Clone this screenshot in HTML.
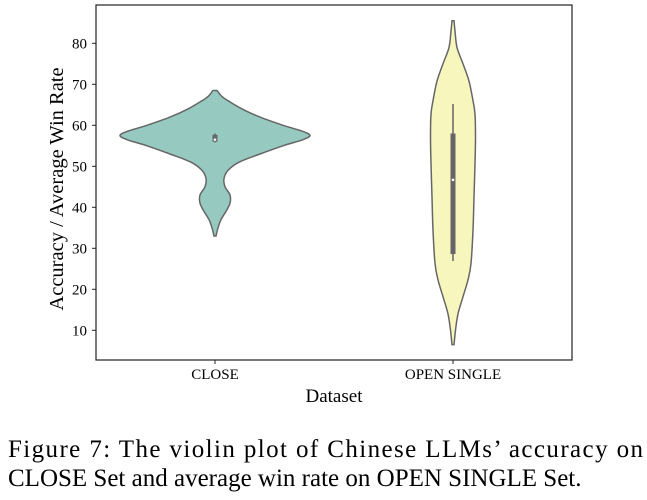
<!DOCTYPE html>
<html><head><meta charset="utf-8"><style>
body{margin:0;background:#fff;width:647px;height:495px;overflow:hidden}
svg text{font-family:"Liberation Serif",serif;fill:#000}
</style></head><body>
<svg id="chart" width="647" height="495" xmlns="http://www.w3.org/2000/svg">
<g id="plot"></g>
<text x="334" y="402" font-size="19" text-anchor="middle">Dataset</text>
<text transform="translate(63,189) rotate(-90)" font-size="20.5" text-anchor="middle">Accuracy / Average Win Rate</text>
<text x="8" y="457" font-size="25" textLength="635" lengthAdjust="spacing">Figure 7: The violin plot of Chinese LLMs’ accuracy on</text>
<text x="8" y="486" font-size="25">CLOSE Set and average win rate on OPEN SINGLE Set.</text>
</svg>
<script>
const categories = ["CLOSE", "OPEN SINGLE"];
const yTicks = [10, 20, 30, 40, 50, 60, 70, 80];
const closeValues = [68.5, 67, 66, 64, 62, 60, 58.5, 57.5, 56.5, 55, 53, 51, 49, 47, 45, 43, 41, 39, 37, 35, 33];
const closeDensity = [2, 7, 13, 27, 45, 68, 88, 95, 88, 68, 45, 24, 13, 9, 10, 15, 15, 11, 6, 3, 1];
const openValues = [85.5, 83, 79, 75, 70.8, 66, 62.7, 57, 50.6, 42.5, 34.4, 26.3, 22.3, 18.2, 14, 10, 6.5];
const openDensity = [1, 2, 4, 10, 16, 20, 22, 22.5, 22, 21, 20, 18, 15, 10, 5, 2.5, 1];
const closeStats = [56, 57.7, 56.5, 55.8, 58]; // q1,q3,median,whiskerLo,whiskerHi
const openStats = [28.6, 58, 46.7, 26.9, 65.2];
const colors = ["#96cac0", "#f7f6bd"];

const L=96,R=572,T=5,B=360;
const y = v => 330.3 - (v - 10) * 4.1;
const xCat = i => [215, 453][i];
const NS="http://www.w3.org/2000/svg";
const plot=document.getElementById('plot');
function mk(tag,attrs){const e=document.createElementNS(NS,tag);for(const k in attrs)e.setAttribute(k,attrs[k]);plot.appendChild(e);return e;}

function smooth(pts){
  let d="M"+pts[0][0]+","+pts[0][1];
  for(let i=0;i<pts.length-1;i++){
    const p0=pts[Math.max(0,i-1)],p1=pts[i],p2=pts[i+1],p3=pts[Math.min(pts.length-1,i+2)];
    const c1=[p1[0]+(p2[0]-p0[0])/6,p1[1]+(p2[1]-p0[1])/6];
    const c2=[p2[0]-(p3[0]-p1[0])/6,p2[1]-(p3[1]-p1[1])/6];
    d+=` C${c1[0]},${c1[1]} ${c2[0]},${c2[1]} ${p2[0]},${p2[1]}`;
  }
  return d;
}
function violin(i,vals,dens,stats,name){
  const cx=xCat(i);
  const right=vals.map((v,k)=>[cx+dens[k],y(v)]);
  const left=vals.map((v,k)=>[cx-dens[k],y(v)]).reverse();
  const sl=smooth(left);
  let d=smooth(right)+" L"+left[0][0]+","+left[0][1]+sl.slice(sl.indexOf(" C"))+" Z";
  const p=mk('path',{d:d,fill:colors[i],stroke:'#666','stroke-width':1.5});
  
  
  const w=mk('line',{x1:cx,x2:cx,y1:y(stats[4]),y2:y(stats[3]),stroke:'#666','stroke-width':1.5});
  
  
  const b=mk('rect',{x:cx-2.5,width:5,y:y(stats[1]),height:y(stats[0])-y(stats[1]),fill:'#666'});
  
  
  const m=mk('circle',{cx:cx,cy:y(stats[2]),r:1.3,fill:'#fff'});
  
  
}
violin(0,closeValues,closeDensity,closeStats,'close');
violin(1,openValues,openDensity,openStats,'open-single');

const frame=mk('rect',{x:L,y:T,width:R-L,height:B-T,fill:'none',stroke:'#222','stroke-width':1.2});


yTicks.forEach(v=>{
  const t=mk('line',{x1:L-4,x2:L,y1:y(v),y2:y(v),stroke:'#222'});
  
  
  const lb=mk('text',{x:L-9,y:y(v)+5,'font-size':15,'text-anchor':'end'});
  lb.textContent=v;
  
  
});
categories.forEach((c,i)=>{
  const t=mk('line',{x1:xCat(i),x2:xCat(i),y1:B,y2:B+4,stroke:'#222'});
  
  
  const lb=mk('text',{x:xCat(i),y:379,'font-size':15,'text-anchor':'middle'});
  lb.textContent=c;
  
  
});
</script>
</body></html>
